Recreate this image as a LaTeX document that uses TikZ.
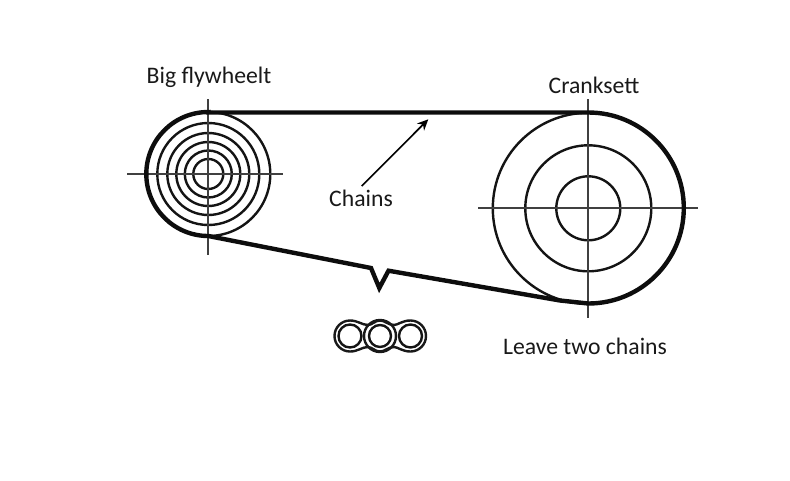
\documentclass[tikz,border=0pt]{standalone}
\usepackage{fontspec}
\setmainfont{Carlito}
\usetikzlibrary{arrows.meta}
\tikzset{
  wheelring/.style={draw=black!92,line width=2.4pt},
  crossline/.style={draw=black!75,line width=1.8pt},
  beltline/.style={draw=black!95,line width=4.4pt,line join=miter,miter limit=6},
  linkline/.style={draw=black!90,line width=2.4pt},
  pointer/.style={draw=black,line width=1.6pt,-{Stealth[length=11pt,width=10pt]}},
  caption/.style={font=\fontsize{23.7pt}{27pt}\selectfont,text=black!90,inner sep=0pt,anchor=center}
}
\begin{document}
\begin{tikzpicture}[x=1pt,y=-1pt]
\useasboundingbox (0,0) rectangle (790,480);
% small wheel
\coordinate (sw) at (208.3,174);
\foreach \r in {15,23.5,32,41,51,62}{\draw[wheelring] (sw) circle[radius=\r];}
\draw[crossline] (127,174) -- (283,174);
\draw[crossline] (208.3,99) -- (208.3,255);
% big wheel
\coordinate (bw) at (588.3,208.3);
\foreach \r in {32,63,95.5}{\draw[wheelring] (bw) circle[radius=\r];}
\draw[crossline] (478,208.3) -- (698,208.3);
\draw[crossline] (588.3,99) -- (588.3,318);
% belt
\draw[beltline] (208.3,112.5) -- (588.3,112.5)
  arc[start angle=-90,end angle=90,radius=95.5]
  -- (560,300.5) -- (388.5,270.7) -- (379.3,288) -- (371,268) -- (208.3,236)
  arc[start angle=90,end angle=270,radius=62] -- cycle;
% chain sample
\draw[wheelring] (350,336) circle[radius=11.5];
\draw[wheelring] (380,336) circle[radius=11];
\draw[wheelring] (410.5,336) circle[radius=11.5];
\draw[linkline] (380,336) circle[radius=16];
\draw[linkline] (350,320.5) arc[start angle=-90,end angle=-270,radius=15.5]
  .. controls (358,351.5) and (362,347) .. (368,347)
  .. controls (372,347) and (375,351.5) .. (380,351.5)
  .. controls (385,351.5) and (388,347) .. (394,347)
  .. controls (398,347) and (402,351.5) .. (410.5,351.5)
  arc[start angle=90,end angle=-90,radius=15.5]
  .. controls (402,320.5) and (398,325) .. (394,325)
  .. controls (388,325) and (385,320.5) .. (380,320.5)
  .. controls (375,320.5) and (372,325) .. (368,325)
  .. controls (362,325) and (358,320.5) .. (350,320.5) -- cycle;
% labels
\node[caption] (lblfly) at (209,77) {Big flywheelt};
\node[caption] (lblcrank) at (594,85) {Cranksett};
\node[caption] (lblchains) at (361,198) {Chains};
\node[caption] (lblleave) at (585,346) {Leave two chains};
\coordinate (ptend) at (428.3,119.3);
\draw[pointer] (361.7,186) -- (ptend);
\end{tikzpicture}
\end{document}
